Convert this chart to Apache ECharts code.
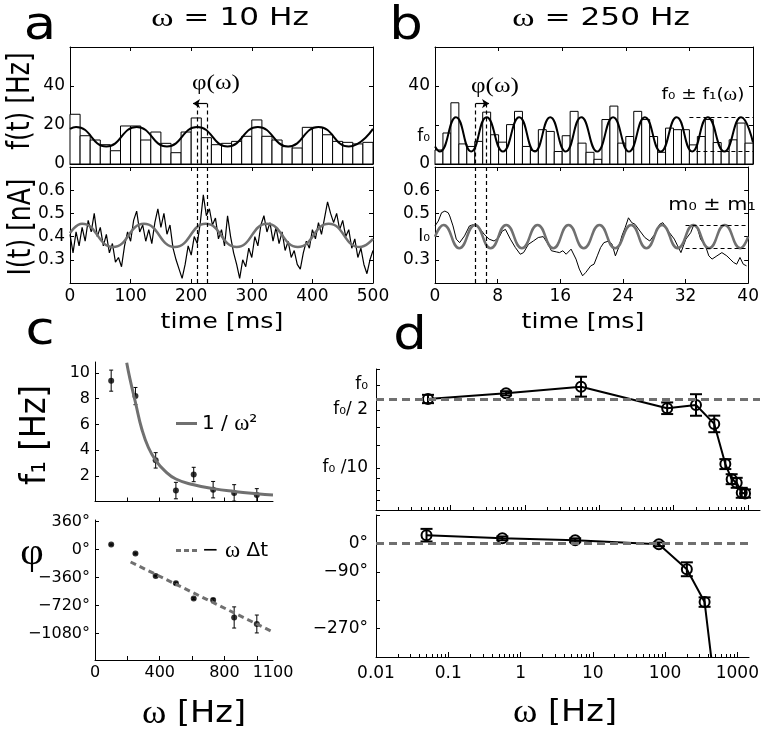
<!DOCTYPE html>
<html lang="en">
<head>
<meta charset="UTF-8">
<title>rate response</title>
<script src="https://cdn.jsdelivr.net/npm/echarts@6/dist/echarts.min.js"></script>
<style>html,body{margin:0;background:#fff}</style>
</head>
<body>
<div id="main" style="width:762px;height:734px"></div>
<script type="text/javascript">
// ---- panel a : omega = 10 Hz ----
var aBinWidth = 500 / 30;
var aBins = [25.5,14.5,12.3,9.9,6.8,19.5,19.5,12.3,16.4,10.6,5.8,16.4,23.6,13.5,9.9,10.6,11.6,14.2,22.6,14.2,12.3,8.9,8.2,18.8,18.8,15.0,11.6,11.1,10.3,11.1];
var aFit = [[0,18],[10,19],[60,9],[110,19],[160,9],[210,19],[260,9],[310,19],[360,9],[410,19],[460,9],[500,18]];
var aTraceStep = 5;
var aTrace = [0.41,0.33,0.42,0.36,0.44,0.38,0.47,0.42,0.50,0.40,0.44,0.36,0.41,0.33,0.37,0.29,0.31,0.27,0.36,0.42,
  0.38,0.47,0.51,0.42,0.45,0.38,0.43,0.37,0.46,0.52,0.44,0.50,0.41,0.45,0.35,0.30,0.26,0.22,0.28,0.36,
  0.32,0.40,0.37,0.46,0.58,0.49,0.52,0.45,0.48,0.39,0.43,0.36,0.49,0.40,0.33,0.28,0.22,0.30,0.27,0.35,
  0.31,0.40,0.36,0.45,0.49,0.42,0.46,0.38,0.44,0.37,0.42,0.34,0.38,0.31,0.34,0.28,0.26,0.33,0.38,0.35,
  0.43,0.39,0.46,0.41,0.48,0.55,0.50,0.46,0.50,0.43,0.47,0.40,0.43,0.35,0.39,0.31,0.35,0.28,0.24,0.30,0.34];
var aGray = [[0,0.415],[20,0.455],[71,0.355],[122,0.455],[173,0.355],[224,0.455],[275,0.355],[325,0.455],[376,0.355],[427,0.455],[478,0.355],[500,0.39]];
var aPhaseLines = [210, 226];

// ---- panel b : omega = 250 Hz ----
var bBinWidth = 1;
var bBins = [7.2,15.9,31.4,10.3,9.0,11.6,26.6,15.0,11.2,20.2,27.0,9.0,6.9,17.6,16.7,6.4,14.5,27.0,10.7,6.0,
  2.4,22.8,29.7,10.7,14.1,27.0,22.8,14.1,6.0,18.4,17.6,17.6,9.8,14.1,22.8,11.0,6.4,12.4,21.0,10.7];
var bFit = [[0,9],[0.6,6.4],[2.64,24],[4.55,6.4],[6.49,24],[8.55,6.4],[10.6,24],[12.55,6.4],[14.5,24],[16.45,6.4],[18.4,24],
  [20.4,6.4],[22.4,24],[24.4,6.4],[26.4,24],[28.4,6.4],[30.4,24],[32.35,6.4],[34.3,24],[36.4,6.4],[38.5,24],[40,11]];
var bTraceT = [0,0.42,0.84,1.26,1.68,1.88,2.30,2.72,3.14,3.77,4.40,5.03,5.65,6.28,6.91,7.54,8.17,8.59,9.0,9.63,
  10.26,10.89,11.31,11.94,12.56,13.19,13.82,14.45,14.87,15.5,15.91,16.33,16.75,17.38,18.01,18.43,18.85,19.27,19.89,20.31,
  20.73,21.15,21.57,22.2,22.62,23.04,23.46,23.87,24.29,24.71,25.13,25.55,26.18,26.8,27.43,28.06,28.69,29.1,29.52,29.94,
  30.57,30.99,31.41,32.04,32.66,33.08,33.5,33.92,34.55,34.97,35.39,36.01,36.64,37.27,37.69,38.11,38.53,38.95,39.37,39.79];
var bTraceV = [0.446,0.467,0.503,0.51,0.503,0.489,0.446,0.389,0.374,0.403,
  0.446,0.453,0.439,0.41,0.389,0.381,0.396,0.424,0.431,0.389,
  0.353,0.324,0.331,0.367,0.381,0.396,0.4,0.367,0.339,0.334,
  0.331,0.339,0.324,0.346,0.303,0.26,0.231,0.246,0.274,0.281,
  0.317,0.353,0.374,0.381,0.367,0.317,0.353,0.403,0.439,0.481,
  0.46,0.453,0.424,0.396,0.381,0.41,0.453,0.46,0.439,0.417,
  0.389,0.36,0.331,0.389,0.417,0.453,0.439,0.389,0.36,0.317,
  0.303,0.317,0.331,0.317,0.303,0.289,0.281,0.31,0.281,0.274];
var bGray = [[0,0.40],[1.1,0.45],[3.1,0.35],[5.1,0.45],[7.1,0.35],[9.1,0.45],[11.1,0.35],[13.1,0.45],[15.1,0.35],[17.05,0.45],
  [19.0,0.35],[21.0,0.45],[23.0,0.35],[25.05,0.45],[27.0,0.35],[29.0,0.45],[31.0,0.35],[33.0,0.45],[35.0,0.35],[37.0,0.45],[39.0,0.35],[40,0.40]];
var bPhaseLines = [5.12, 6.5];
var bF0 = 14.1, bF0Band = [6.4, 24.1], bI0Band = [0.349, 0.449];

// ---- panel c ----
var cOmega = [100,250,375,500,610,730,860,1000];
var cF1 = [9.4,8.2,3.2,0.85,2.1,0.92,0.67,0.5];
var cF1Err = [0.82,0.67,0.6,0.64,0.56,0.64,0.64,0.5];
var cPhase = [64,-51,-341,-434,-630,-647,-873,-957];
var cPhaseErr = [8,8,10,15,10,15,136,115];
var cPowerFit = [[196,10.8],[215,9.6],[250,7.7],[290,5.6],[330,4.2],[375,3.2],[430,2.4],[500,1.75],[610,1.3],[730,1.0],[860,0.78],[1000,0.6],[1100,0.5]];
var cDelayFit = [[220,-160],[1100,-1060]];

// ---- panel d ----
var dOmega = [0.05,0.56,5.7,82,200,352,496,603,705,824,912];
var dF1 = [0.678,0.794,0.954,0.524,0.574,0.339,0.111,0.073,0.066,0.050,0.049];
var dF1Err = [0.05,0.025,0.12,0.07,0.13,0.1,0.06,0.06,0.06,0.06,0.05];   // in decades
var dPhase = [26,16,10,-3,-82,-186,-470];
var dPhaseErr = [20,6,6,6,22,15,0];
var dLowLimit = 0.67;

// tick labels
var cOmegaTicks = [0,200,400,600,800,1000];
var cOmegaLabels = [0,400,800,1100];
var cF1Labels = [2,4,6,8,10];
var cPhaseLabels = [360,0,-360,-720,-1080];
var dOmegaMajor = [0.01,0.1,1,10,100,1000];
var dF1Ticks = [1.56,1,0.5,0.31,0.19,0.1,0.074,0.054,0.041];
var dF1Labels = [1,0.5,0.1];
var dPhaseTicks = [90,0,-90,-180,-270];
var dPhaseLabels = [0,-90,-270];

var dOmegaMinor = [];
dOmegaMajor.forEach(function (d) {
  for (var k = 2; k <= 9; k++) { if (d * k < 1450) dOmegaMinor.push(d * k); }
});

var sans = 'DejaVu Sans';
var serif = 'Liberation Serif';

function lbl(size, extra) {
  var o = {show: true, color: '#000', fontFamily: sans, fontSize: size, margin: 5};
  for (var k in extra) o[k] = extra[k];
  return o;
}
function axis(type, grid, min, max, pos, o) {
  var a = {
    type: type, gridIndex: grid, min: min, max: max, position: pos,
    splitLine: {show: false},
    axisLine: {show: true, onZero: false, lineStyle: {color: '#000', width: 1}},
    axisTick: {show: true, inside: true, length: 4, lineStyle: {color: '#000'}},
    axisLabel: {show: false}
  };
  for (var k in o) a[k] = o[k];
  return a;
}
function ticks(vals, len) { return {show: true, inside: true, length: len || 4, lineStyle: {color: '#000'}, customValues: vals}; }
var noLine = {show: false, onZero: false};
function degree(v) { return String(v).replace('-', '−') + '°'; }

function histRender(params, api) {
  var p0 = api.coord([api.value(0), api.value(2)]);
  var p1 = api.coord([api.value(1), 0]);
  return {type: 'rect', shape: {x: p0[0], y: p0[1], width: p1[0] - p0[0], height: p1[1] - p0[1]},
    style: {fill: '#fff', stroke: '#000', lineWidth: 1}};
}
function errRender(cap, lw) {
  return function (params, api) {
    var a = api.coord([api.value(0), api.value(1)]);
    var b = api.coord([api.value(0), api.value(2)]);
    var st = {stroke: '#000', lineWidth: lw};
    return {type: 'group', children: [
      {type: 'line', shape: {x1: a[0], y1: a[1], x2: b[0], y2: b[1]}, style: st},
      {type: 'line', shape: {x1: a[0] - cap, y1: a[1], x2: a[0] + cap, y2: a[1]}, style: st},
      {type: 'line', shape: {x1: b[0] - cap, y1: b[1], x2: b[0] + cap, y2: b[1]}, style: st}
    ]};
  };
}
function bins(arr, w) { return arr.map(function (h, i) { return [i * w, (i + 1) * w, h]; }); }

var dash = {type: [4, 3], color: '#000', width: 1.2};
function vLinesTop(ts, yTop) {
  return ts.map(function (t) { return [{coord: [t, yTop]}, {coord: [t, 0]}]; });
}

var aTraceData = aTrace.map(function (v, i) { return [i * aTraceStep, v]; });
var bTraceData = bTraceT.map(function (t, i) { return [t, bTraceV[i]]; });

var legendText = {fontFamily: sans, fontSize: 20, color: '#000', rich: {g: {fontFamily: serif, fontSize: 23, color: '#000'}}};

var option = {
  backgroundColor: '#fff',
  animation: false,
  grid: [
    {left: 70, top: 47, width: 303, height: 117},
    {left: 70, top: 167, width: 303, height: 116},
    {left: 435, top: 47, width: 318, height: 117},
    {left: 435, top: 167, width: 318, height: 116},
    {left: 95, top: 362, width: 178, height: 139.5},
    {left: 95, top: 520, width: 178, height: 140},
    {left: 376, top: 369, width: 384, height: 141},
    {left: 376, top: 515, width: 384, height: 142}
  ],
  xAxis: [
    axis('value', 0, 0, 500, 'bottom', {interval: 100}),
    axis('value', 0, 0, 500, 'top', {interval: 100}),
    axis('value', 1, 0, 500, 'bottom', {interval: 100, axisLabel: lbl(17)}),
    axis('value', 1, 0, 500, 'top', {interval: 100}),
    axis('value', 2, 0, 40, 'bottom', {interval: 8}),
    axis('value', 2, 0, 40, 'top', {interval: 8}),
    axis('value', 3, 0, 40, 'bottom', {interval: 8, axisLabel: lbl(17)}),
    axis('value', 3, 0, 40, 'top', {interval: 8}),
    axis('value', 4, 0, 1100, 'bottom', {axisTick: ticks(cOmegaTicks)}),
    axis('value', 5, 0, 1100, 'bottom', {axisTick: ticks(cOmegaTicks), axisLabel: lbl(16, {customValues: cOmegaLabels,
      formatter: function (v) { return String(v); }})}),
    axis('log', 6, 0.01, 1450, 'bottom', {axisTick: ticks(dOmegaMajor, 5)}),
    axis('log', 6, 0.01, 1450, 'bottom', {axisLine: noLine, axisTick: ticks(dOmegaMinor, 3)}),
    axis('log', 7, 0.01, 1450, 'bottom', {axisTick: ticks(dOmegaMajor, 5),
      axisLabel: lbl(17, {customValues: dOmegaMajor, margin: 8, formatter: function (v) { return String(+v.toPrecision(3)); }})}),
    axis('log', 7, 0.01, 1450, 'bottom', {axisLine: noLine, axisTick: ticks(dOmegaMinor, 3)})
  ],
  yAxis: [
    axis('value', 0, 0, 60, 'left', {interval: 20, axisLabel: lbl(17, {showMaxLabel: false})}),
    axis('value', 0, 0, 60, 'right', {interval: 20}),
    axis('value', 1, 0.2, 0.7, 'left', {interval: 0.1, axisLabel: lbl(17, {showMinLabel: false, showMaxLabel: false})}),
    axis('value', 1, 0.2, 0.7, 'right', {interval: 0.1}),
    axis('value', 2, 0, 60, 'left', {interval: 20, axisLabel: lbl(17, {customValues: [0, bF0, 40],
      formatter: function (v) { return v === bF0 ? 'f₀' : String(v); }})}),
    axis('value', 2, 0, 60, 'right', {interval: 20}),
    axis('value', 3, 0.2, 0.7, 'left', {interval: 0.1, axisLabel: lbl(17, {customValues: [0.3, 0.4, 0.5, 0.6],
      formatter: function (v) { return v === 0.4 ? 'I₀' : String(v); }})}),
    axis('value', 3, 0.2, 0.7, 'right', {interval: 0.1}),
    axis('value', 4, 0, 10.85, 'left', {axisTick: ticks(cF1Labels), axisLabel: lbl(16, {customValues: cF1Labels})}),
    axis('value', 5, -1420, 380, 'left', {axisTick: ticks(cPhaseLabels), axisLabel: lbl(16, {customValues: cPhaseLabels,
      formatter: degree})}),
    axis('log', 6, 0.031, 1.56, 'left', {axisTick: ticks(dF1Ticks), axisLabel: lbl(17, {customValues: dF1Labels, margin: 8,
      formatter: function (v) { return v >= 0.99 ? 'f₀' : (v > 0.3 ? 'f₀/ 2' : 'f₀ /10'); }})}),
    axis('value', 7, -360, 90, 'left', {axisTick: ticks(dPhaseTicks), axisLabel: lbl(17, {customValues: dPhaseLabels, margin: 8,
      formatter: degree})})
  ],
  legend: [
    {left: 171, top: 407, itemWidth: 21, itemHeight: 3, icon: 'rect', data: ['1 / ω²'],
      formatter: function () { return '1 / {g|ω}²'; }, textStyle: legendText},
    {left: 171, top: 534, itemWidth: 21, itemHeight: 3, icon: 'path://M0,0H5V3H0ZM8,0H13V3H8ZM16,0H21V3H16Z', data: ['− ω Δt'],
      formatter: function () { return '− {g|ω} Δt'; }, textStyle: legendText}
  ],
  series: [
    // a top
    {type: 'custom', xAxisIndex: 0, yAxisIndex: 0, renderItem: histRender, data: bins(aBins, aBinWidth),
      encode: {x: [0, 1], y: 2}},
    {type: 'line', xAxisIndex: 0, yAxisIndex: 0, data: aFit, smooth: true, symbol: 'none',
      lineStyle: {color: '#000', width: 2},
      markLine: {silent: true, symbol: ['none', 'none'], label: {show: false}, lineStyle: dash,
        data: vLinesTop(aPhaseLines, 31)}},
    {type: 'line', xAxisIndex: 0, yAxisIndex: 0, data: [], markLine: {silent: true, symbol: ['none', 'arrow'], symbolSize: 7,
      label: {show: false}, lineStyle: {color: '#000', width: 1.2, type: 'solid'},
      data: [[{coord: [aPhaseLines[1], 31]}, {coord: [203, 31]}]]}},
    // a bottom
    {type: 'line', xAxisIndex: 2, yAxisIndex: 2, data: aTraceData, symbol: 'none', lineStyle: {color: '#000', width: 1.2},
      markLine: {silent: true, symbol: ['none', 'none'], label: {show: false}, lineStyle: dash,
        data: aPhaseLines.map(function (t) { return {xAxis: t}; })}},
    {type: 'line', xAxisIndex: 2, yAxisIndex: 2, data: aGray, smooth: true, symbol: 'none', lineStyle: {color: '#707070', width: 2.5}},
    // b top
    {type: 'custom', xAxisIndex: 4, yAxisIndex: 4, renderItem: histRender, data: bins(bBins, bBinWidth),
      encode: {x: [0, 1], y: 2}},
    {type: 'line', xAxisIndex: 4, yAxisIndex: 4, data: bFit, smooth: true, symbol: 'none',
      lineStyle: {color: '#000', width: 2},
      markLine: {silent: true, symbol: ['none', 'none'], label: {show: false}, lineStyle: dash,
        data: vLinesTop(bPhaseLines, 31).concat(bF0Band.map(function (v) { return [{coord: [32, v]}, {coord: [40, v]}]; }))}},
    {type: 'line', xAxisIndex: 4, yAxisIndex: 4, data: [], markLine: {silent: true, symbol: ['none', 'arrow'], symbolSize: 7,
      label: {show: false}, lineStyle: {color: '#000', width: 1.2, type: 'solid'},
      data: [[{coord: [bPhaseLines[0], 31]}, {coord: [6.8, 31]}]]}},
    // b bottom
    {type: 'line', xAxisIndex: 6, yAxisIndex: 6, data: bTraceData, symbol: 'none', lineStyle: {color: '#000', width: 1},
      markLine: {silent: true, symbol: ['none', 'none'], label: {show: false}, lineStyle: dash,
        data: bPhaseLines.map(function (t) { return {xAxis: t}; })
          .concat(bI0Band.map(function (v) { return [{coord: [32, v]}, {coord: [40, v]}]; }))}},
    {type: 'line', xAxisIndex: 6, yAxisIndex: 6, data: bGray, smooth: true, symbol: 'none', lineStyle: {color: '#707070', width: 2.5}},
    // c top
    {name: '1 / ω²', type: 'line', xAxisIndex: 8, yAxisIndex: 8, data: cPowerFit, smooth: true, symbol: 'none',
      lineStyle: {color: '#707070', width: 3}, itemStyle: {color: '#707070'}},
    {type: 'custom', xAxisIndex: 8, yAxisIndex: 8, renderItem: errRender(2, 1),
      data: cOmega.map(function (w, i) { return [w, cF1[i] - cF1Err[i], cF1[i] + cF1Err[i]]; }), encode: {x: 0, y: [1, 2]}},
    {type: 'scatter', xAxisIndex: 8, yAxisIndex: 8, symbolSize: 6, itemStyle: {color: '#000'},
      data: cOmega.map(function (w, i) { return [w, cF1[i]]; })},
    // c bottom
    {name: '− ω Δt', type: 'line', xAxisIndex: 9, yAxisIndex: 9, data: cDelayFit, symbol: 'none',
      lineStyle: {color: '#707070', width: 3, type: [6, 4]}, itemStyle: {color: '#707070'}},
    {type: 'custom', xAxisIndex: 9, yAxisIndex: 9, renderItem: errRender(2, 1),
      data: cOmega.map(function (w, i) { return [w, cPhase[i] - cPhaseErr[i], cPhase[i] + cPhaseErr[i]]; }), encode: {x: 0, y: [1, 2]}},
    {type: 'scatter', xAxisIndex: 9, yAxisIndex: 9, symbolSize: 6, itemStyle: {color: '#000'},
      data: cOmega.map(function (w, i) { return [w, cPhase[i]]; })},
    // d top
    {type: 'line', xAxisIndex: 10, yAxisIndex: 10, symbol: 'circle', symbolSize: 10,
      data: dOmega.map(function (w, i) { return [w, dF1[i]]; }),
      lineStyle: {color: '#000', width: 2}, itemStyle: {color: 'rgba(0,0,0,0)', borderColor: '#000', borderWidth: 2},
      markLine: {silent: true, symbol: ['none', 'none'], label: {show: false},
        lineStyle: {color: '#707070', width: 3, type: [8, 5]}, data: [{yAxis: dLowLimit}]}},
    {type: 'custom', xAxisIndex: 10, yAxisIndex: 10, renderItem: errRender(6, 2),
      data: dOmega.map(function (w, i) { var f = Math.pow(10, dF1Err[i]); return [w, dF1[i] / f, dF1[i] * f]; }), encode: {x: 0, y: [1, 2]}},
    // d bottom
    {type: 'line', xAxisIndex: 12, yAxisIndex: 11, symbol: 'circle', symbolSize: 10, clip: true,
      data: dPhase.map(function (p, i) { return [dOmega[i], p]; }),
      lineStyle: {color: '#000', width: 2}, itemStyle: {color: 'rgba(0,0,0,0)', borderColor: '#000', borderWidth: 2},
      markLine: {silent: true, symbol: ['none', 'none'], label: {show: false},
        lineStyle: {color: '#707070', width: 3, type: [8, 5]}, data: [{yAxis: 0}]}},
    {type: 'custom', xAxisIndex: 12, yAxisIndex: 11, renderItem: errRender(6, 2), clip: true,
      data: dPhase.slice(0, 6).map(function (p, i) { return [dOmega[i], p - dPhaseErr[i], p + dPhaseErr[i]]; }), encode: {x: 0, y: [1, 2]}}
  ],
  graphic: []
};

function txt(x, y, text, size, o) {
  var g = {type: 'text', x: x, y: y, silent: true,
    style: {text: text, fontSize: size, fontFamily: sans, fill: '#000', align: 'center', verticalAlign: 'middle',
      textAlign: 'center', textVerticalAlign: 'middle',
      rich: {g: {fontFamily: serif, fontSize: Math.round(size * 1.1), fill: '#000'}}}};
  for (var k in o) g[k] = o[k];
  return g;
}
option.graphic = [
  txt(40, 27, 'a', 46, {scaleX: 1.15}),
  txt(406, 27, 'b', 46, {scaleX: 1.15}),
  txt(40, 332, 'c', 46, {scaleX: 1.15}),
  txt(410, 337, 'd', 46, {scaleX: 1.15}),
  txt(230, 19, '{g|ω} = 10 Hz', 24, {scaleX: 1.3}),
  txt(601, 19, '{g|ω} = 250 Hz', 24, {scaleX: 1.3}),
  txt(222, 322, 'time [ms]', 22, {scaleX: 1.15}),
  txt(583, 322, 'time [ms]', 22, {scaleX: 1.15}),
  txt(21, 101, 'f(t) [Hz]', 25, {rotation: Math.PI / 2, scaleY: 1.3}),
  txt(22, 227, 'I(t) [nA]', 25, {rotation: Math.PI / 2, scaleY: 1.3}),
  txt(36, 435, 'f₁ [Hz]', 32, {rotation: Math.PI / 2, scaleY: 1.1}),
  txt(32, 554, '{g|φ}', 34, {scaleX: 1.1}),
  txt(194, 714, '{g|ω} [Hz]', 30, {scaleX: 1.12}),
  txt(565, 713, '{g|ω} [Hz]', 30, {scaleX: 1.12}),
  txt(216, 83, '{g|φ(ω)}', 19, {scaleX: 1.2}),
  txt(495, 86, '{g|φ(ω)}', 19, {scaleX: 1.2}),
  txt(703, 95, 'f₀ ± f₁({g|ω})', 16, {scaleX: 1.15}),
  txt(712, 205, 'm₀ ± m₁', 18, {scaleX: 1.15})
];

var myChart = echarts.init(document.getElementById('main'));
myChart.setOption(option);
</script>
</body>
</html>
